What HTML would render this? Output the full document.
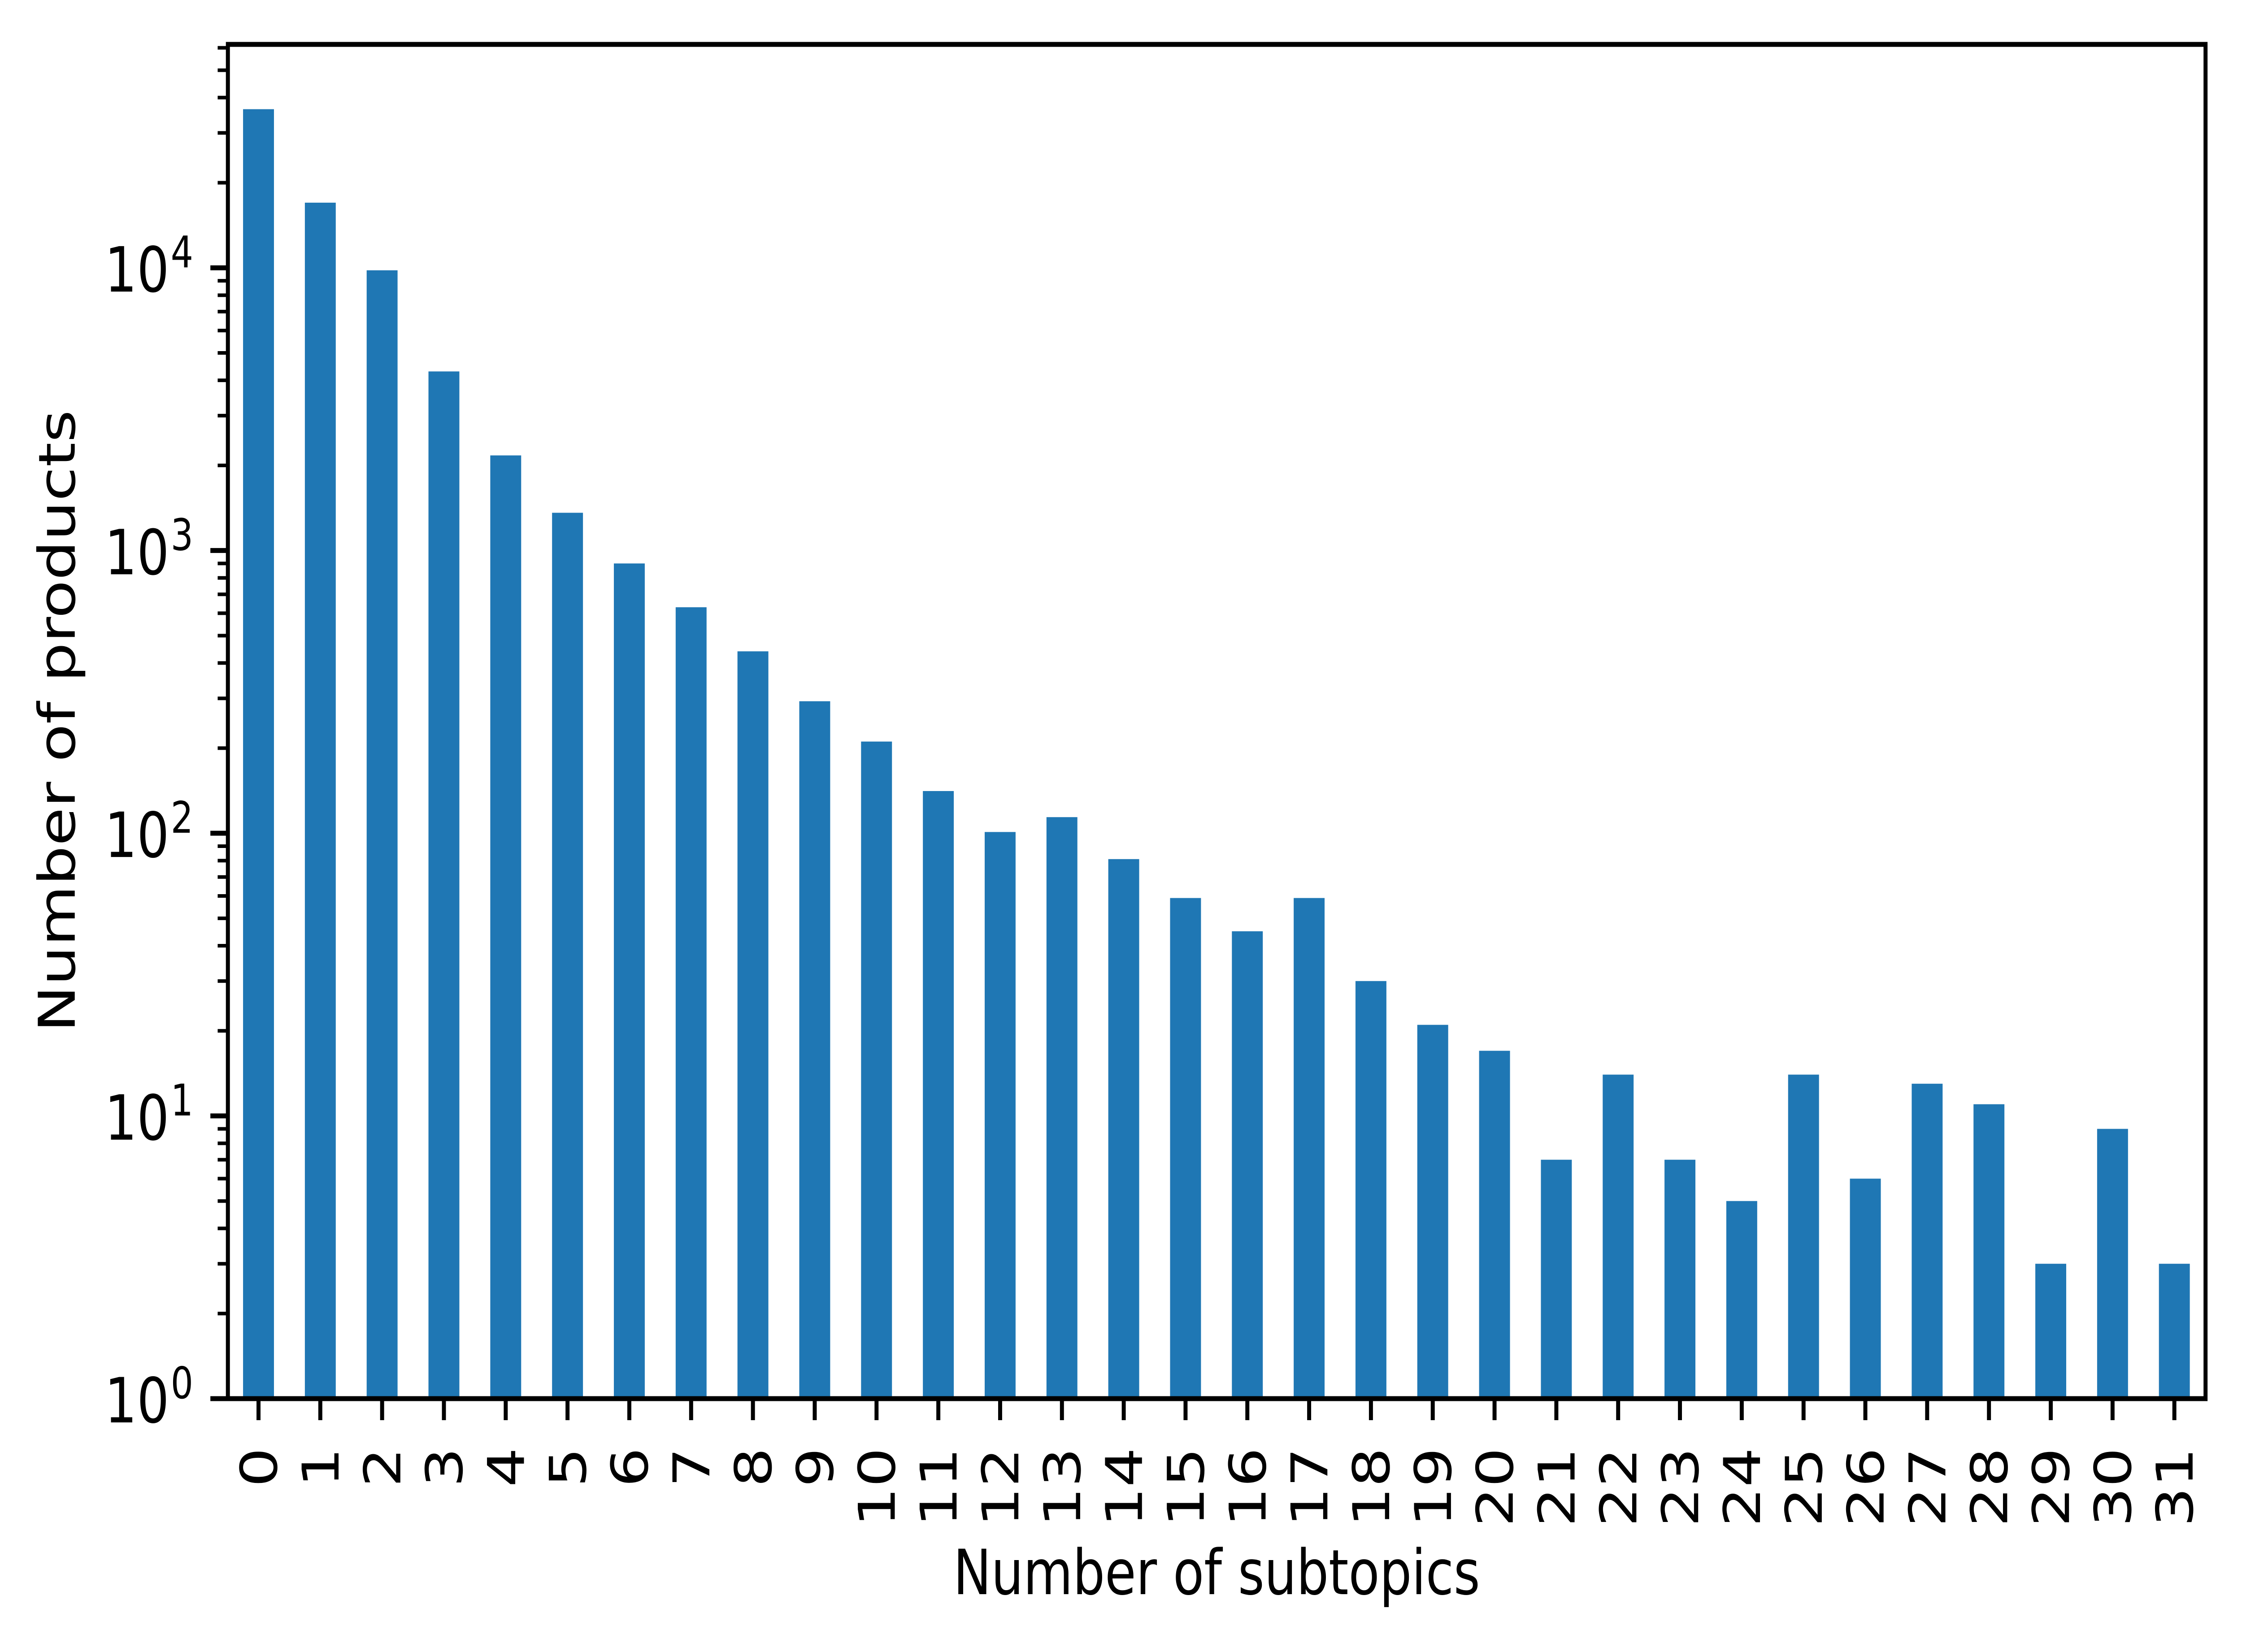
<!DOCTYPE html>
<html><head><meta charset="utf-8"><style>html,body{margin:0;padding:0;background:#fff;overflow:hidden;width:100%;height:100%}svg{display:block;width:100vw;height:100vh}</style></head>
<body>
<svg id="chart" xmlns="http://www.w3.org/2000/svg" viewBox="0 0 6149 3684" preserveAspectRatio="none" font-family="'DejaVu Sans','Liberation Sans',sans-serif">
<rect width="6149" height="3684" fill="#fff"/>
<g id="bars"></g>
<g id="yticks"></g>
<g id="xticks"></g>
<rect x="625" y="99" width="5424" height="3020" fill="none" stroke="#000" stroke-width="11"/>
<text x="3337" y="3555" font-size="139" text-anchor="middle">Number of subtopics</text>
<text transform="translate(205,1608) rotate(-90)" font-size="139" text-anchor="middle">Number of products</text>
</svg>
<script>
const categories = [0,1,2,3,4,5,6,7,8,9,10,11,12,13,14,15,16,17,18,19,20,21,22,23,24,25,26,27,28,29,30,31];
const counts = [36400,17000,9800,4300,2170,1360,900,630,440,293,211,141,101,114,81,59,45,59,30,21,17,7,14,7,5,14,6,13,11,3,9,3];
const yTickExponents = [0,1,2,3,4];
const yMax = 61700;

const NS = 'http://www.w3.org/2000/svg';
const axL = 625, axR = 6049, axT = 99, axB = 3119;
const x0 = 709, step = 169.5;
const decade = (axB - axT) / Math.log10(yMax);
function xs(i){ return x0 + step * i; }
function ys(v){ return axB - decade * Math.log10(v); }
function mk(tag, attrs, parent){ const e = document.createElementNS(NS, tag); for (const k in attrs) e.setAttribute(k, attrs[k]); parent.appendChild(e); return e; }

const barsG = document.getElementById('bars');
const bw = step * 0.5;
categories.forEach((c, i) => {
  const y = ys(counts[i]);
  const r = mk('rect', {x: xs(i) - bw/2, y: y, width: bw, height: axB - y, fill: '#1f77b4'}, barsG);
  
  
});

const xg = document.getElementById('xticks');
categories.forEach((c, i) => {
  const x = xs(i);
  const t = mk('line', {x1: x, x2: x, y1: axB, y2: axB + 48, stroke: '#000', 'stroke-width': 11}, xg);
  
  
  const lb = mk('text', {transform: 'translate(' + (x + 50) + ',3228) rotate(-90)', 'font-size': 139, 'text-anchor': 'end'}, xg);
  lb.textContent = String(c);
  
  
});

const yg = document.getElementById('yticks');
const maxExp = Math.floor(Math.log10(yMax));
for (let e = 0; e <= maxExp; e++) {
  for (let m = 2; m <= 9; m++) {
    const v = m * Math.pow(10, e);
    if (v > yMax) break;
    const y = ys(v);
    const t = mk('line', {x1: axL - 28, x2: axL, y1: y, y2: y, stroke: '#000', 'stroke-width': 8}, yg);
    
    
  }
}
yTickExponents.forEach(e => {
  const y = ys(Math.pow(10, e));
  const t = mk('line', {x1: axL - 48, x2: axL, y1: y, y2: y, stroke: '#000', 'stroke-width': 11}, yg);
  
  
  const g = mk('g', {}, yg);
  
  
  const base = mk('text', {x: 464, y: y + 53, 'font-size': 139, 'text-anchor': 'end'}, g);
  base.textContent = '10';
  const sup = mk('text', {x: 530, y: y - 1, 'font-size': 97, 'text-anchor': 'end'}, g);
  sup.textContent = String(e);
});
</script>
</body></html>
